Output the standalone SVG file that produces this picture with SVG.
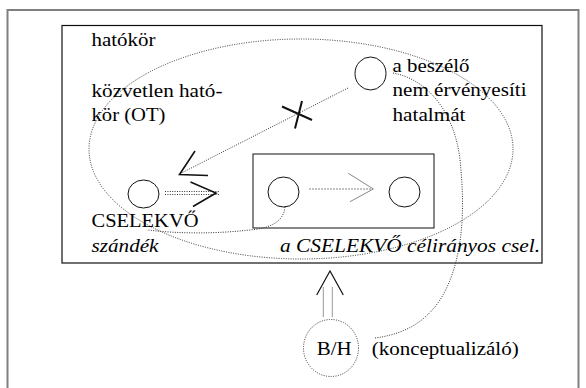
<svg xmlns="http://www.w3.org/2000/svg" width="586" height="388" viewBox="0 0 586 388">
<style>
text{font-family:"Liberation Serif","Times New Roman",serif;font-size:19px;fill:#000}
.it{font-style:italic}
.c{fill:none;stroke:#111;stroke-width:1}
.dot{fill:none;stroke:#333;stroke-width:1;stroke-dasharray:1 1.4}
.head{fill:none;stroke:#111;stroke-width:1.6;stroke-linejoin:miter}
.gray{fill:none;stroke:#888;stroke-width:1}
</style>
<rect width="586" height="388" fill="#fff"/>
<path d="M7.5,388 V10 H578.5 V388" fill="none" stroke="#808080" stroke-width="2"/>
<g id="maximal-scope">
<rect x="62" y="25.5" width="480" height="237.5" fill="none" stroke="#111" stroke-width="1.2"/>
<text x="91.5" y="46" textLength="64" lengthAdjust="spacingAndGlyphs">hatókör</text>
</g>
<g id="immediate-scope">
<ellipse class="dot" cx="301" cy="149" rx="212" ry="110"/>
<text x="91.5" y="97" textLength="131" lengthAdjust="spacingAndGlyphs">közvetlen ható-</text>
<text x="91.5" y="121" textLength="74" lengthAdjust="spacingAndGlyphs">kör (OT)</text>
</g>
<g id="speaker">
<ellipse class="c" cx="370.5" cy="73.5" rx="15.5" ry="16.5"/>
<text x="392.5" y="71.5" textLength="77" lengthAdjust="spacingAndGlyphs">a beszélő</text>
<text x="392.5" y="96" textLength="134" lengthAdjust="spacingAndGlyphs">nem érvényesíti</text>
<text x="392.5" y="120.5" textLength="73" lengthAdjust="spacingAndGlyphs">hatalmát</text>
</g>
<g id="actor">
<ellipse class="c" cx="143.5" cy="194" rx="15.5" ry="14"/>
<text x="91.5" y="227" textLength="107" lengthAdjust="spacingAndGlyphs">CSELEKVŐ</text>
<text class="it" x="91.5" y="252" textLength="67" lengthAdjust="spacingAndGlyphs">szándék</text>
</g>
<g id="action">
<rect x="253" y="154" width="181" height="74" fill="none" stroke="#111" stroke-width="1"/>
<ellipse class="c" cx="283.5" cy="192" rx="15.5" ry="15"/>
<ellipse class="c" cx="404.5" cy="192" rx="15.5" ry="15"/>
<text class="it" x="280" y="252" textLength="260" lengthAdjust="spacingAndGlyphs">a CSELEKVŐ célirányos csel.</text>
</g>
<g id="conceptualizer">
<ellipse class="dot" cx="331" cy="348" rx="27.5" ry="28.5"/>
<text x="316.7" y="355" textLength="35" lengthAdjust="spacingAndGlyphs">B/H</text>
<text x="371.7" y="355" textLength="147" lengthAdjust="spacingAndGlyphs">(konceptualizáló)</text>
</g>
<g id="connectors">
<line class="dot" x1="348" y1="88" x2="180.5" y2="173.5"/>
<polyline class="head" points="195,151 179.5,174.5 208,175.5"/>
<path d="M282,106.5 L312,120 M295,128.5 L302,101" fill="none" stroke="#111" stroke-width="2"/>
<line class="dot" x1="165" y1="191.5" x2="219" y2="191.5"/>
<line class="dot" x1="165" y1="194.5" x2="219" y2="194.5"/>
<polyline class="head" points="190.5,182 216,193 193,206.5"/>
<line x1="309" y1="189" x2="372" y2="189" stroke="#888" stroke-width="1" stroke-dasharray="2 1"/>
<polyline class="gray" points="348.3,173.3 373.3,189 350,201.7"/>
<path class="dot" d="M285,207 C284,218 276,226 258,229 C220,234 180,234 148,230"/>
<path class="dot" d="M393,73 C430,80 455,115 460,160 C466,215 462,265 440,300 C425,322 405,334 375,338"/>
<line x1="323.3" y1="317" x2="323.3" y2="287" stroke="#999" stroke-width="1"/>
<line x1="332.3" y1="317" x2="332.3" y2="287" stroke="#999" stroke-width="1"/>
<polyline fill="none" stroke="#111" stroke-width="1.2" points="316.7,295 330,271 343.3,295"/>
</g>
</svg>
